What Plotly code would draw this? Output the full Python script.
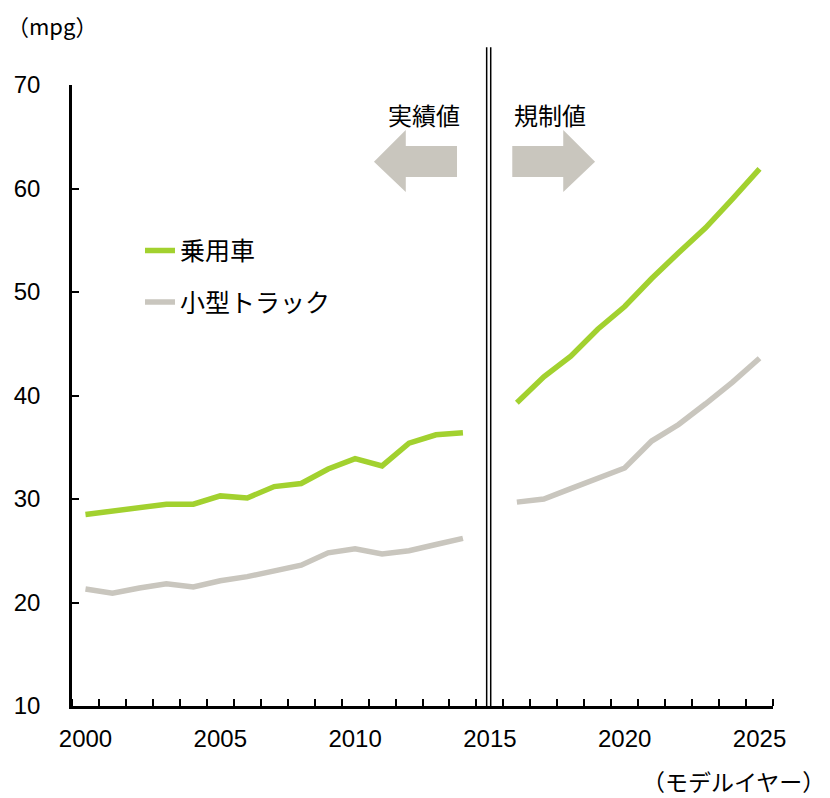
import plotly.graph_objects as go

years = list(range(2000, 2026))
passenger = [28.5, 28.8, 29.1, 29.5, 29.5, 30.3, 30.1, 31.2, 31.5, 32.9, 33.9, 33.2, 35.4, 36.2, 36.4,
             None,
             39.3, 41.8, 43.8, 46.4, 48.6, 51.3, 53.8, 56.2, 59.0, 61.9]
light_truck = [21.3, 20.9, 21.4, 21.8, 21.5, 22.1, 22.5, 23.1, 23.6, 24.8, 25.2, 24.7, 25.0, 25.6, 26.2,
               None,
               29.7, 30.0, 31.0, 32.0, 33.0, 35.6, 37.2, 39.2, 41.3, 43.6]
series_names = ["乗用車", "小型トラック"]
xtick_vals = [2000, 2005, 2010, 2015, 2020, 2025]
ytick_vals = [10, 20, 30, 40, 50, 60, 70]

GREEN = "#A2D12F"
GRAY = "#C9C6BE"
FONT = "Liberation Sans, Arial, Noto Sans CJK JP"
FONT_JP = "Noto Sans CJK JP"

fig = go.Figure()
fig.add_trace(go.Scatter(x=years, y=passenger, name=series_names[0], mode="lines",
                         line=dict(color=GREEN, width=5.5), connectgaps=False,
                         legendgroup="a"))
fig.add_trace(go.Scatter(x=years, y=light_truck, name=series_names[1], mode="lines",
                         line=dict(color=GRAY, width=5.5), connectgaps=False,
                         legendgroup="b"))

# double break line at 2015
for xv in (2014.88, 2015.03):
    fig.add_shape(type="line", xref="x", yref="paper", x0=xv, x1=xv, y0=0, y1=1.0607,
                  line=dict(color="black", width=1.5))

# arrows
left_arrow = ("M 2010.70,62.59 L 2011.88,65.65 L 2011.88,64.11 L 2013.78,64.11 "
              "L 2013.78,61.11 L 2011.88,61.11 L 2011.88,59.66 Z")
right_arrow = ("M 2018.90,62.59 L 2017.72,65.65 L 2017.72,64.11 L 2015.83,64.11 "
               "L 2015.83,61.11 L 2017.72,61.11 L 2017.72,59.66 Z")
for p in (left_arrow, right_arrow):
    fig.add_shape(type="path", path=p, xref="x", yref="y", fillcolor=GRAY,
                  line=dict(width=0))

fig.add_annotation(x=2011.15, y=67.19, xref="x", yref="y", text="実績値", showarrow=False,
                   xanchor="left", font=dict(size=24, color="black", family=FONT_JP))
fig.add_annotation(x=2015.82, y=67.19, xref="x", yref="y", text="規制値", showarrow=False,
                   xanchor="left", font=dict(size=24, color="black", family=FONT_JP))

fig.add_annotation(x=-0.0956, y=1.097, xref="paper", yref="paper", text="（mpg）",
                   showarrow=False, xanchor="left", yanchor="middle",
                   font=dict(size=22, color="black", family=FONT_JP))
fig.add_annotation(x=1.077, y=-0.12, xref="paper", yref="paper", text="（モデルイヤー）",
                   showarrow=False, xanchor="right", yanchor="middle",
                   font=dict(size=23, color="black", family=FONT_JP))

fig.update_layout(
    width=830, height=798,
    margin=dict(l=72, r=57, t=85, b=92),
    paper_bgcolor="white", plot_bgcolor="white",
    font=dict(family=FONT, size=24, color="black"),
    showlegend=True,
    legend=dict(x=0.097, y=0.77, xanchor="left", yanchor="top",
                bgcolor="rgba(0,0,0,0)", tracegroupgap=16,
                font=dict(size=25, family=FONT_JP)),
    xaxis=dict(range=[1999.5, 2025.5], tickvals=xtick_vals, ticktext=[str(v) for v in xtick_vals],
               ticks="", showgrid=False, zeroline=False, showline=True,
               linecolor="black", linewidth=2.5, ticklabelstandoff=9,
               minor=dict(ticks="inside", tick0=1999.5, dtick=1, ticklen=7,
                          tickwidth=2, tickcolor="black", showgrid=False)),
    yaxis=dict(range=[10, 70], tickvals=ytick_vals, ticks="inside", ticklen=7, tickwidth=2,
               tickcolor="black", showgrid=False, zeroline=False, showline=True,
               linecolor="black", linewidth=2.5, ticklabelstandoff=24),
)

fig.write_html("out.html")
